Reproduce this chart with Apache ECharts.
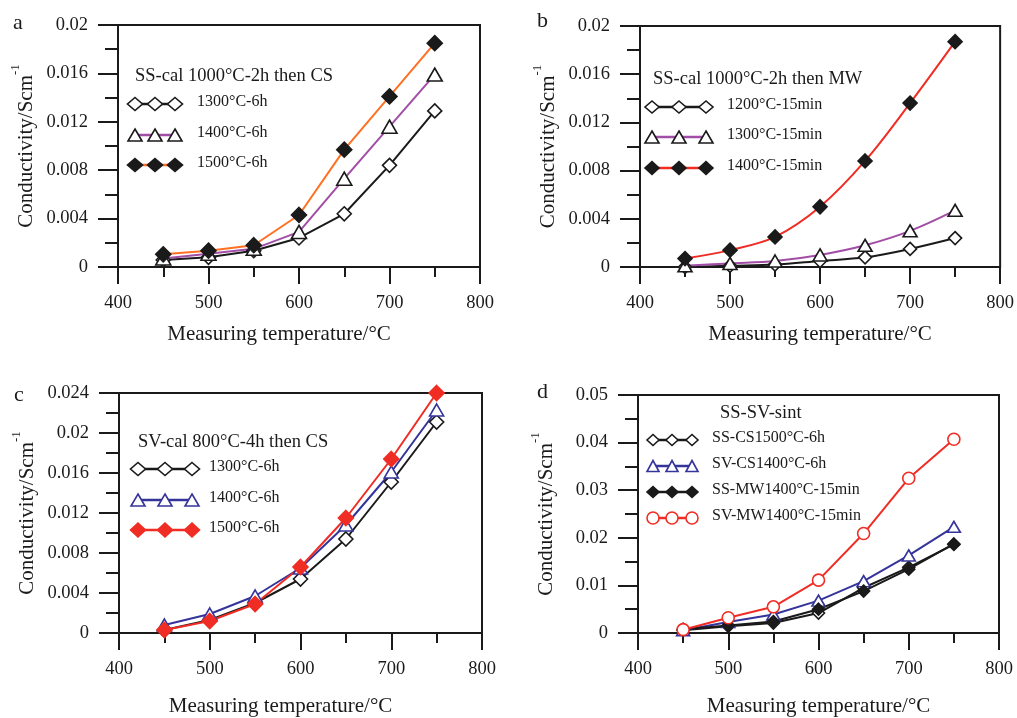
<!DOCTYPE html>
<html><head><meta charset="utf-8">
<script src="https://cdn.jsdelivr.net/npm/echarts@6/dist/echarts.min.js"></script>
<style>html,body{margin:0;padding:0;background:#fff}#c{width:1017px;height:718px}</style>
</head><body><div id="c"></div>
<script>
// ---- data ----
const temps = [450, 500, 550, 600, 650, 700, 750];
const xTickLabels = ['400', '500', '600', '700', '800'];

// panel a: SS-cal 1000°C-2h then CS
const aTitle = 'SS-cal 1000°C-2h then CS';
const aNames = ['1300°C-6h', '1400°C-6h', '1500°C-6h'];
const a1300 = [0.00058, 0.0008, 0.00135, 0.0024, 0.0044, 0.0084, 0.0129];
const a1400 = [0.0007, 0.0011, 0.0015, 0.0029, 0.0073, 0.0116, 0.0159];
const a1500 = [0.00105, 0.00135, 0.0018, 0.0043, 0.0097, 0.0141, 0.0185];

// panel b: SS-cal 1000°C-2h then MW
const bTitle = 'SS-cal 1000°C-2h then MW';
const bNames = ['1200°C-15min', '1300°C-15min', '1400°C-15min'];
const b1200 = [0.0000, 0.0001, 0.0002, 0.0005, 0.0008, 0.0015, 0.0024];
const b1300 = [0.0001, 0.0003, 0.0005, 0.0010, 0.0018, 0.0030, 0.0047];
const b1400 = [0.0007, 0.0014, 0.0025, 0.0050, 0.0088, 0.0136, 0.0187];

// panel c: SV-cal 800°C-4h then CS
const cTitle = 'SV-cal 800°C-4h then CS';
const cNames = ['1300°C-6h', '1400°C-6h', '1500°C-6h'];
const c1300 = [0.0003, 0.0013, 0.0030, 0.0054, 0.0094, 0.0151, 0.0211];
const c1400 = [0.0008, 0.0019, 0.0037, 0.0065, 0.0108, 0.0161, 0.0223];
const c1500 = [0.0003, 0.0012, 0.0029, 0.0066, 0.0115, 0.0174, 0.0240];

// panel d: SS-SV-sint
const dTitle = 'SS-SV-sint';
const dNames = ['SS-CS1500°C-6h', 'SV-CS1400°C-6h', 'SS-MW1400°C-15min', 'SV-MW1400°C-15min'];
const dSSCS = [0.0006, 0.0014, 0.0021, 0.0042, 0.0095, 0.0138, 0.0186];
const dSVCS = [0.0006, 0.0023, 0.0039, 0.0068, 0.0109, 0.0163, 0.0223];
const dSSMW = [0.0008, 0.0016, 0.0024, 0.0050, 0.0088, 0.0134, 0.0187];
const dSVMW = [0.0007, 0.0032, 0.0055, 0.0111, 0.0209, 0.0325, 0.0407];

const panelLetters = ['a', 'b', 'c', 'd'];
const yMax = [0.02, 0.02, 0.024, 0.05];
const yStep = [0.004, 0.004, 0.004, 0.01];
const xTitle = 'Measuring temperature/°C';

// ---- styles ----
const FONT = "'Liberation Serif','Times New Roman',serif";
const BLACK = '#1a1a1a';
const PURPLE = '#a24ea6';
const ORANGE = '#ff7022';
const RED = '#f02d24';
const BLUE = '#34349a';

const grids = [
  {left: 118, right: 537, top: 25, bottom: 451},
  {left: 640, right: 15, top: 26, bottom: 451},
  {left: 119, right: 535, top: 393, bottom: 83},
  {left: 638, right: 18, top: 395, bottom: 82}
];

function fmtY(v) { return String(parseFloat(v.toFixed(4))); }

const xAxes = [], yAxes = [];
grids.forEach((g, i) => {
  g.show = true; g.borderColor = BLACK; g.borderWidth = 2; g.backgroundColor = 'transparent';
  xAxes.push({
    gridIndex: i, type: 'value', min: 400, max: 800, interval: 100,
    name: xTitle, nameLocation: 'middle', nameGap: i < 2 ? 57 : 63,
    nameTextStyle: {fontFamily: FONT, fontSize: 21, color: BLACK,
      padding: (i % 2 === 0) ? [0, 40, 0, 0] : [0, 0, 0, 0]},
    axisLine: {show: true, onZero: false, lineStyle: {color: BLACK, width: 2}},
    axisTick: {show: true, inside: false, length: 17, lineStyle: {color: BLACK, width: 2}},
    minorTick: {show: true, splitNumber: 2, length: 10, lineStyle: {color: BLACK, width: 2}},
    splitLine: {show: false}, minorSplitLine: {show: false},
    axisLabel: {fontFamily: FONT, fontSize: 18.5, color: BLACK, margin: 27,
      formatter: v => xTickLabels[Math.round((v - 400) / 100)] }
  });
  yAxes.push({
    gridIndex: i, type: 'value', min: 0, max: yMax[i], interval: yStep[i],
    name: '{m|Conductivity/Scm}{s|-1}', nameLocation: 'middle', nameGap: 81, nameRotate: 90,
    nameTextStyle: {fontFamily: FONT, fontSize: 21, color: BLACK,
      rich: {m: {fontFamily: FONT, fontSize: 21, color: BLACK, lineHeight: 28, verticalAlign: 'bottom'},
             s: {fontFamily: FONT, fontSize: 13, color: BLACK, lineHeight: 13, verticalAlign: 'top'}}},
    axisLine: {show: true, onZero: false, lineStyle: {color: BLACK, width: 2}},
    axisTick: {show: true, inside: false, length: 20, lineStyle: {color: BLACK, width: 2}},
    minorTick: {show: true, splitNumber: 2, length: 13, lineStyle: {color: BLACK, width: 2}},
    splitLine: {show: false}, minorSplitLine: {show: false},
    axisLabel: {fontFamily: FONT, fontSize: 18.5, color: BLACK, margin: 30, formatter: fmtY}
  });
});

function pairs(arr) { return temps.map((t, k) => [t, arr[k]]); }

function ser(gi, name, data, lineColor, symbol, size, fill, stroke, smooth) {
  return {
    type: 'line', name: name, xAxisIndex: gi, yAxisIndex: gi, data: pairs(data),
    smooth: smooth || false, symbol: symbol, symbolSize: size, showSymbol: true,
    lineStyle: {color: lineColor, width: 2},
    itemStyle: {color: fill, borderColor: stroke, borderWidth: 1.6},
    emphasis: {disabled: true}, animation: false, z: 3
  };
}

const series = [
  ser(0, aNames[0], a1300, BLACK, 'diamond', 14, '#fff', BLACK),
  ser(0, aNames[1], a1400, PURPLE, 'triangle', [15, 13], '#fff', BLACK),
  ser(0, aNames[2], a1500, ORANGE, 'diamond', 15, BLACK, BLACK),
  ser(1, bNames[0], b1200, BLACK, 'diamond', 13, '#fff', BLACK, 0.35),
  ser(1, bNames[1], b1300, PURPLE, 'triangle', [14, 12], '#fff', BLACK, 0.35),
  ser(1, bNames[2], b1400, RED, 'diamond', 14, BLACK, BLACK, 0.35),
  ser(2, cNames[0], c1300, BLACK, 'diamond', 14, '#fff', BLACK),
  ser(2, cNames[1], c1400, BLUE, 'triangle', [14, 12], '#fff', BLUE),
  ser(2, cNames[2], c1500, RED, 'diamond', 15, RED, RED),
  ser(3, dNames[0], dSSCS, BLACK, 'diamond', 12, '#fff', BLACK),
  ser(3, dNames[1], dSVCS, BLUE, 'triangle', [13, 11], '#fff', BLUE),
  ser(3, dNames[2], dSSMW, BLACK, 'diamond', 12, BLACK, BLACK),
  ser(3, dNames[3], dSVMW, RED, 'circle', 12, '#fff', RED)
];

// ---- legend graphics ----
function markerShape(kind, cx, cy, w, h, fill, stroke) {
  if (kind === 'circle') {
    return {type: 'circle', shape: {cx: cx, cy: cy, r: w / 2}, style: {fill: fill, stroke: stroke, lineWidth: 1.6}, z: 10};
  }
  let pts;
  if (kind === 'diamond') pts = [[cx, cy - h / 2], [cx + w / 2, cy], [cx, cy + h / 2], [cx - w / 2, cy]];
  else pts = [[cx, cy - h / 2], [cx + w / 2, cy + h / 2], [cx - w / 2, cy + h / 2]];
  return {type: 'polygon', shape: {points: pts}, style: {fill: fill, stroke: stroke, lineWidth: 1.6}, z: 10};
}

const graphics = [];
function legendBlock(title, titleX, titleY, rows, mx, textX, items, fs) {
  graphics.push({type: 'text', left: titleX, top: titleY - 11, z: 10,
    style: {text: title, font: '18.5px ' + FONT, fill: BLACK}});
  items.forEach((it, k) => {
    const y = rows[k];
    graphics.push({type: 'line', shape: {x1: mx[0], y1: y, x2: mx[2], y2: y},
      style: {stroke: it.line, lineWidth: 2.5}, z: 9});
    mx.forEach(x => graphics.push(markerShape(it.sym, x, y, it.w, it.h, it.fill, it.stroke)));
    graphics.push({type: 'text', left: textX, top: y - 10, z: 10,
      style: {text: it.name, font: fs + 'px ' + FONT, fill: BLACK}});
  });
}

legendBlock(aTitle, 135, 78, [104, 135, 165], [135, 155, 175], 197, [
  {name: aNames[0], line: BLACK, sym: 'diamond', w: 15, h: 13, fill: '#fff', stroke: BLACK},
  {name: aNames[1], line: PURPLE, sym: 'triangle', w: 14, h: 12, fill: '#fff', stroke: BLACK},
  {name: aNames[2], line: ORANGE, sym: 'diamond', w: 15, h: 13, fill: BLACK, stroke: BLACK}
], 16);
legendBlock(bTitle, 653, 81, [107, 137, 168], [652, 679, 706], 727, [
  {name: bNames[0], line: BLACK, sym: 'diamond', w: 14, h: 12, fill: '#fff', stroke: BLACK},
  {name: bNames[1], line: PURPLE, sym: 'triangle', w: 14, h: 12, fill: '#fff', stroke: BLACK},
  {name: bNames[2], line: RED, sym: 'diamond', w: 14, h: 13, fill: BLACK, stroke: BLACK}
], 16);
legendBlock(cTitle, 138, 444, [469, 500, 530], [138, 165, 192], 209, [
  {name: cNames[0], line: BLACK, sym: 'diamond', w: 15, h: 13, fill: '#fff', stroke: BLACK},
  {name: cNames[1], line: BLUE, sym: 'triangle', w: 14, h: 12, fill: '#fff', stroke: BLUE},
  {name: cNames[2], line: RED, sym: 'diamond', w: 15, h: 14, fill: RED, stroke: RED}
], 16);
legendBlock(dTitle, 720, 415, [440, 466, 492, 518], [653, 672, 692], 712, [
  {name: dNames[0], line: BLACK, sym: 'diamond', w: 12, h: 11, fill: '#fff', stroke: BLACK},
  {name: dNames[1], line: BLUE, sym: 'triangle', w: 12, h: 11, fill: '#fff', stroke: BLUE},
  {name: dNames[2], line: BLACK, sym: 'diamond', w: 12, h: 11, fill: BLACK, stroke: BLACK},
  {name: dNames[3], line: RED, sym: 'circle', w: 12, h: 12, fill: '#fff', stroke: RED}
], 16);

const letterPos = [[13, 12], [537, 10], [14, 384], [537, 381]];
panelLetters.forEach((L, i) => {
  graphics.push({type: 'text', left: letterPos[i][0], top: letterPos[i][1], z: 10,
    style: {text: L, font: '22px ' + FONT, fill: BLACK}});
});

const chart = echarts.init(document.getElementById('c'), null, {renderer: 'canvas'});
chart.setOption({
  animation: false, backgroundColor: '#fff',
  grid: grids, xAxis: xAxes, yAxis: yAxes, series: series, graphic: graphics
});
</script></body></html>
